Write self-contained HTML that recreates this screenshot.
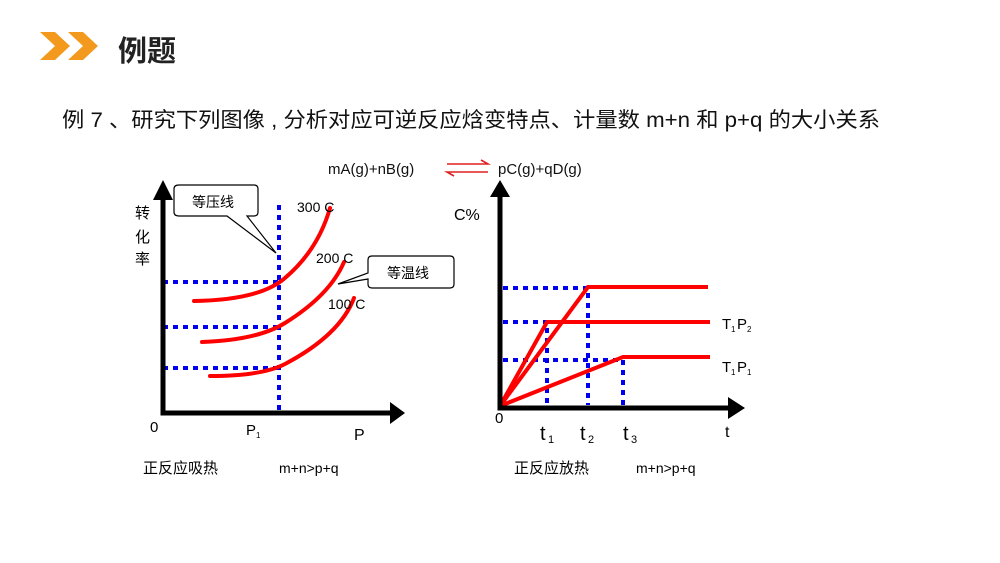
<!DOCTYPE html>
<html><head><meta charset="utf-8"><style>
html,body{margin:0;padding:0;background:#fff;}
svg{display:block;font-family:"Liberation Sans","Noto Sans CJK SC",sans-serif;}
</style></head><body>
<svg width="1000" height="563" viewBox="0 0 1000 563" xmlns="http://www.w3.org/2000/svg">
<defs>
<marker id="ah" markerWidth="10" markerHeight="10" refX="1" refY="5" orient="auto" markerUnits="userSpaceOnUse"><path d="M0,0 L0,0"/></marker>
</defs>
<!-- header -->
<polygon points="40,32 55,32 70,46 55,60 40,60 55,46" fill="#f39a1e"/>
<polygon points="68,32 83,32 98,46 83,60 68,60 83,46" fill="#f39a1e"/>
<text x="118" y="61" font-size="29" font-weight="bold" fill="#222">例题</text>
<text x="62" y="127" font-size="21" fill="#111" textLength="818" lengthAdjust="spacingAndGlyphs">例 7 、研究下列图像 , 分析对应可逆反应焓变特点、计量数 m+n 和 p+q 的大小关系</text>
<!-- equation -->
<text x="328" y="174" font-size="15" fill="#111">mA(g)+nB(g)</text>
<g stroke="#e02020" stroke-width="1.6" fill="none">
<path d="M447,164 H488 L481,160"/>
<path d="M488,172 H447 L454,176"/>
</g>
<text x="498" y="174" font-size="15" fill="#111">pC(g)+qD(g)</text>

<!-- left graph -->
<g stroke="#0000ee" stroke-width="4" stroke-dasharray="5,5" fill="none">
<path d="M279,205 V413"/>
<path d="M163,282 H279"/>
<path d="M163,327 H279"/>
<path d="M163,368 H279"/>
</g>
<g stroke="#f00" stroke-width="4" fill="none" stroke-linecap="round">
<path d="M194,301 Q260,300 285,278 Q318,250 330,208"/>
<path d="M202,342 Q258,340 285,323 Q330,295 344,262"/>
<path d="M210,376 Q262,376 285,364 Q340,335 354,298"/>
</g>
<path d="M163,198 V413 H392" stroke="#000" stroke-width="5" fill="none"/>
<polygon points="153,200 163,180 173,200" fill="#000"/>
<polygon points="390,402 405,413 390,424" fill="#000"/>
<text x="135" y="218" font-size="15">转</text>
<text x="135" y="242" font-size="15">化</text>
<text x="135" y="264" font-size="15">率</text>
<text x="150" y="432" font-size="15">0</text>
<text x="246" y="435" font-size="15">P</text><text x="256" y="438" font-size="8">1</text>
<text x="354" y="440" font-size="16">P</text>
<text x="297" y="212" font-size="14">300 C</text>
<text x="316" y="263" font-size="14">200 C</text>
<text x="328" y="309" font-size="14">100 C</text>
<!-- callouts -->
<path d="M179,185 H254 Q258,185 258,189 V212 Q258,216 254,216 H247 L276,253 L227,216 H179 Q174,216 174,212 V189 Q174,185 179,185 Z" fill="#fff" stroke="#000" stroke-width="1.2"/>
<text x="192" y="207" font-size="14">等压线</text>
<path d="M372,256 H450 Q454,256 454,260 V284 Q454,288 450,288 H372 Q368,288 368,284 V279 L338,284 L368,273 V260 Q368,256 372,256 Z" fill="#fff" stroke="#000" stroke-width="1.2"/>
<text x="387" y="278" font-size="14">等温线</text>
<text x="143" y="473" font-size="15">正反应吸热</text>
<text x="279" y="473" font-size="14">m+n&gt;p+q</text>

<!-- right graph -->
<text x="454" y="220" font-size="16">C%</text>
<g stroke="#0000ee" stroke-width="4" stroke-dasharray="5,5" fill="none">
<path d="M503,288 H588 V405"/>
<path d="M503,322 H547 V405"/>
<path d="M503,360 H623 V405"/>
</g>
<g stroke="#f00" stroke-width="4" fill="none">
<path d="M500,406 L588,287 H708"/>
<path d="M500,406 L547,322 H710"/>
<path d="M500,406 L623,357 H710"/>
</g>
<path d="M500,195 V408 H730" stroke="#000" stroke-width="5" fill="none"/>
<polygon points="490,197 500,180 510,197" fill="#000"/>
<polygon points="728,397 745,408 728,419" fill="#000"/>
<text x="495" y="423" font-size="15">0</text>
<text x="540" y="440" font-size="20">t</text><text x="548" y="443" font-size="11">1</text>
<text x="580" y="440" font-size="20">t</text><text x="588" y="443" font-size="11">2</text>
<text x="623" y="440" font-size="20">t</text><text x="631" y="443" font-size="11">3</text>
<text x="725" y="437" font-size="16">t</text>
<text x="722" y="329" font-size="15">T</text><text x="731" y="332" font-size="8">1</text><text x="737" y="329" font-size="15">P</text><text x="747" y="332" font-size="8">2</text>
<text x="722" y="372" font-size="15">T</text><text x="731" y="375" font-size="8">1</text><text x="737" y="372" font-size="15">P</text><text x="747" y="375" font-size="8">1</text>
<text x="514" y="473" font-size="15">正反应放热</text>
<text x="636" y="473" font-size="14">m+n&gt;p+q</text>
</svg>
</body></html>
